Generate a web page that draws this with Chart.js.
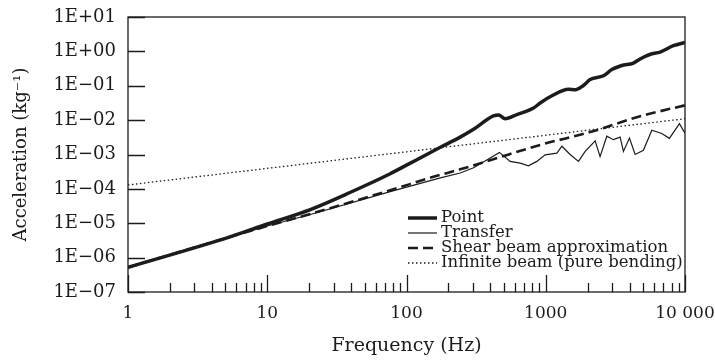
<!DOCTYPE html>
<html>
<head>
<meta charset="utf-8">
<script src="https://cdn.jsdelivr.net/npm/chart.js@4/dist/chart.umd.min.js"></script>
<style>
  html, body { margin: 0; padding: 0; background: #fff; }
</style>
</head>
<body>
<canvas id="grafico" width="715" height="360"></canvas>
<script>
// valores (frecuencia en Hz, acelerancia en kg^-1)
const frecPunto = [1, 5.4, 10, 20.4, 40, 76.4, 100, 175, 243, 303, 421, 458, 511, 620, 816, 912, 1107, 1456, 1626, 1866, 2083, 2596, 2981, 3513, 4264, 4761, 5777, 6622, 8254, 10000]
const accPunto = [5.2e-7, 4.0e-6, 9.5e-6, 2.5e-5, 8.1e-5, 2.75e-4, 4.9e-4, 1.62e-3, 3.2e-3, 5.4e-3, 1.32e-2, 1.41e-2, 1.10e-2, 1.45e-2, 2.24e-2, 3.16e-2, 5.1e-2, 7.9e-2, 7.6e-2, 0.102, 0.151, 0.195, 0.295, 0.389, 0.457, 0.603, 0.851, 0.955, 1.46, 1.82]

const frecTransfer = [1, 10, 20.4, 76.4, 175, 243, 303, 399, 465, 555, 655, 751, 863, 990, 1202, 1306, 1496, 1718, 1919, 2264, 2455, 2746, 3063, 3420, 3613, 3991, 4385, 5027, 5777, 6813, 7727, 9120, 10000]
const accTransfer = [5.2e-7, 8.3e-6, 1.8e-5, 8.3e-5, 2.1e-4, 2.9e-4, 4.1e-4, 7.9e-4, 1.15e-3, 6.3e-4, 5.6e-4, 4.7e-4, 6.3e-4, 9.8e-4, 1.1e-3, 1.74e-3, 1.0e-3, 6.3e-4, 1.23e-3, 2.5e-3, 8.7e-4, 3.4e-3, 2.7e-3, 3.2e-3, 1.23e-3, 3.0e-3, 1.0e-3, 1.32e-3, 5.1e-3, 4.1e-3, 2.95e-3, 7.9e-3, 4.2e-3]

const frecCorte = [1, 10, 20.4, 76.4, 156, 243, 399, 912, 2083, 4761, 10000]
const accCorte = [5.2e-7, 8.3e-6, 1.86e-5, 9.1e-5, 2.24e-4, 3.7e-4, 6.8e-4, 1.9e-3, 4.5e-3, 1.29e-2, 2.7e-2]

const frecInfinita = [1, 100, 10000]
const accInfinita = [1.3e-4, 1.2e-3, 1.1e-2]

const etiquetasSerie = ['Point', 'Transfer', 'Shear beam approximation', 'Infinite beam (pure bending)']

const ticksX = [1, 10, 100, 1000, 10000]
const etiquetasX = ['1', '10', '100', '1000', '10 000']
const ticksY = [1e-7, 1e-6, 1e-5, 1e-4, 1e-3, 1e-2, 1e-1, 1, 10]
const etiquetasY = ['1E\u221207', '1E\u221206', '1E\u221205', '1E\u221204', '1E\u221203', '1E\u221202', '1E\u221201', '1E+00', '1E+01']
const menoresX = [2, 3, 4, 5, 6, 7, 8, 9]

const NEGRO = '#1c1c1c'

function puntos(frec, acc) {
    return frec.map((f, i) => ({ x: f, y: acc[i] }))
}

// marco, marcas hacia dentro y leyenda dentro del area
const marcoYLeyenda = {
    id: 'marcoYLeyenda',
    afterDraw(chart) {
        const { ctx, chartArea: a, scales: { x, y } } = chart
        ctx.save()
        ctx.strokeStyle = NEGRO
        ctx.lineWidth = 1.3
        ctx.beginPath()
        ticksY.forEach(v => {
            const py = Math.round(y.getPixelForValue(v)) + 0.5
            ctx.moveTo(a.left, py)
            ctx.lineTo(a.left + 17, py)
        })
        ticksX.forEach((v, i) => {
            const px = Math.round(x.getPixelForValue(v)) + 0.5
            ctx.moveTo(px, a.bottom)
            ctx.lineTo(px, a.bottom - 17)
            if (i < ticksX.length - 1) {
                menoresX.forEach(m => {
                    const pm = Math.round(x.getPixelForValue(v * m)) + 0.5
                    ctx.moveTo(pm, a.bottom)
                    ctx.lineTo(pm, a.bottom - 9)
                })
            }
        })
        ctx.stroke()
        ctx.strokeRect(a.left, a.top, a.right - a.left, a.bottom - a.top)

        // leyenda
        const xLinea = a.right - 277
        const xTexto = a.right - 244
        ctx.font = '16.5px "DejaVu Serif"'
        ctx.fillStyle = NEGRO
        ctx.textBaseline = 'alphabetic'
        chart.data.datasets.forEach((ds, i) => {
            const base = a.bottom - 70 + i * 15
            ctx.beginPath()
            ctx.lineWidth = ds.borderWidth
            ctx.setLineDash(ds.borderDash || [])
            ctx.moveTo(xLinea, base - 4)
            ctx.lineTo(xLinea + 29, base - 4)
            ctx.stroke()
            ctx.setLineDash([])
            ctx.fillText(ds.label, xTexto, base)
        })
        ctx.restore()
    }
}

Chart.defaults.font.family = '"DejaVu Serif"'
Chart.defaults.color = NEGRO

const datasets = [
    { label: etiquetasSerie[0], data: puntos(frecPunto, accPunto), borderColor: NEGRO, borderWidth: 3.5, pointRadius: 0, cubicInterpolationMode: 'monotone' },
    { label: etiquetasSerie[1], data: puntos(frecTransfer, accTransfer), borderColor: NEGRO, borderWidth: 1.2, pointRadius: 0 },
    { label: etiquetasSerie[2], data: puntos(frecCorte, accCorte), borderColor: NEGRO, borderWidth: 2.6, borderDash: [10, 5], pointRadius: 0, cubicInterpolationMode: 'monotone' },
    { label: etiquetasSerie[3], data: puntos(frecInfinita, accInfinita), borderColor: NEGRO, borderWidth: 1.3, borderDash: [1.5, 2.5], pointRadius: 0 }
]

new Chart(document.getElementById('grafico'), {
    type: 'line',
    data: { datasets },
    options: {
        responsive: false,
        animation: false,
        layout: { padding: { top: 17, right: 30, bottom: 0, left: 0 } },
        plugins: { legend: { display: false }, tooltip: { enabled: false } },
        scales: {
            x: {
                type: 'logarithmic',
                min: 1,
                max: 10000,
                grid: { display: false, drawTicks: false },
                border: { display: false },
                afterBuildTicks: s => { s.ticks = ticksX.map(v => ({ value: v })) },
                afterFit: s => { s.height = 68; s.paddingLeft = 0; s.paddingRight = 0 },
                ticks: {
                    padding: 11,
                    maxRotation: 0,
                    autoSkip: false,
                    font: { size: 17 },
                    callback: (v, i) => etiquetasX[i]
                },
                title: {
                    display: true,
                    text: 'Frequency (Hz)',
                    font: { size: 19 },
                    padding: { top: 0, bottom: 3 }
                }
            },
            y: {
                type: 'logarithmic',
                min: 1e-7,
                max: 10,
                grid: { display: false, drawTicks: false },
                border: { display: false },
                afterBuildTicks: s => { s.ticks = ticksY.map(v => ({ value: v })) },
                afterFit: s => { s.width = 128; s.paddingTop = 0; s.paddingBottom = 0 },
                ticks: {
                    padding: 12,
                    autoSkip: false,
                    font: { size: 18 },
                    callback: (v, i) => etiquetasY[i]
                },
                title: {
                    display: true,
                    text: 'Acceleration (kg\u207B\u00B9)',
                    font: { size: 18 },
                    padding: { top: 11, bottom: 0 }
                }
            }
        }
    },
    plugins: [marcoYLeyenda]
})
</script>
</body>
</html>
